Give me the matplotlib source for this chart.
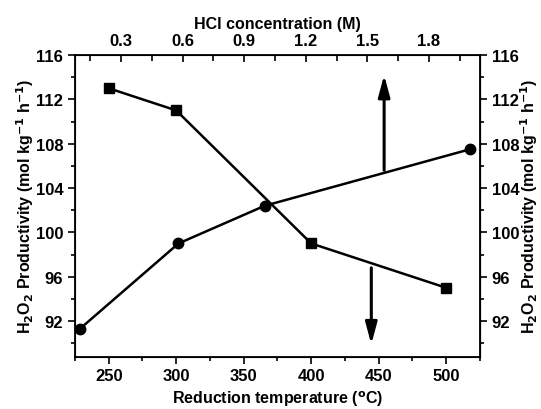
import matplotlib
matplotlib.use("Agg")
import matplotlib.pyplot as plt
from matplotlib.ticker import MultipleLocator

plt.rcParams['font.family'] = ['Liberation Sans', 'DejaVu Sans']
plt.rcParams['font.weight'] = 'bold'
plt.rcParams['mathtext.default'] = 'bf'

# data
temps = [250, 300, 400, 500]          # reduction temperature (C), squares
prod_temp = [113.0, 111.0, 99.0, 95.0]
hcl = [0.10, 0.58, 1.00, 2.00]        # HCl concentration (M), circles
prod_hcl = [91.3, 99.0, 102.4, 107.5]

ylabel = r'H$_2$O$_2$ Productivity (mol kg$^{-1}$ h$^{-1}$)'

fig = plt.figure(figsize=(5.41, 4.10), dpi=100)
ax = fig.add_axes([0.1386, 0.128, 0.7486, 0.7354])

ax.plot(temps, prod_temp, color='black', lw=1.8, marker='s', ms=7, zorder=3)
ax.set_xlim(225, 525)
ax.set_ylim(88.8, 116)
ax.xaxis.set_major_locator(MultipleLocator(50))
ax.xaxis.set_minor_locator(MultipleLocator(25))
ax.yaxis.set_major_locator(MultipleLocator(4))
ax.yaxis.set_minor_locator(MultipleLocator(2))
ax.tick_params(axis='both', which='major', direction='out', length=5, width=1.2, labelsize=12)
ax.tick_params(axis='both', which='minor', direction='out', length=3, width=1.2)
ax.set_xlabel('Reduction temperature ($^{o}$C)', fontsize=11.5, fontweight='bold', labelpad=4)
ax.set_ylabel(ylabel, fontsize=11.5, fontweight='bold', labelpad=0)
for s in ax.spines.values():
    s.set_linewidth(1.3)

# top axis: HCl concentration
axt = ax.twiny()
axt.plot(hcl, prod_hcl, color='black', lw=1.8, marker='o', ms=7.5, zorder=3, clip_on=False)
axt.set_xlim(0.076, 2.048)
axt.set_xticks([0.3, 0.6, 0.9, 1.2, 1.5, 1.8])
axt.set_xticklabels(['0.3', '0.6', '0.9', '1.2', '1.5', '1.8'])
axt.xaxis.set_minor_locator(MultipleLocator(0.15))
axt.tick_params(axis='x', which='major', direction='in', length=5, width=1.2, labelsize=12, pad=5)
axt.tick_params(axis='x', which='minor', direction='in', length=4, width=1.2)
axt.set_xlabel('HCl concentration (M)', fontsize=11.5, fontweight='bold', labelpad=4)

# right axis mirrors left
axr = ax.secondary_yaxis('right')
axr.yaxis.set_major_locator(MultipleLocator(4))
axr.yaxis.set_minor_locator(MultipleLocator(2))
axr.tick_params(axis='y', which='major', direction='out', length=5, width=1.2, labelsize=12)
axr.tick_params(axis='y', which='minor', direction='out', length=3, width=1.2)
axr.set_ylabel(ylabel, fontsize=11.5, fontweight='bold', labelpad=-1)

for t in ax.get_xticklabels() + ax.get_yticklabels() + axt.get_xticklabels() + axr.get_yticklabels():
    t.set_fontweight('bold')

# arrows pointing to each series' axis
arrow = dict(arrowstyle='-|>,head_length=1.3,head_width=0.35', color='black', lw=2.2, shrinkA=0, shrinkB=0)
ax.annotate('', xy=(454, 114.2), xytext=(454, 105.6), arrowprops=arrow)
ax.annotate('', xy=(444.5, 89.9), xytext=(444.5, 96.8), arrowprops=arrow)

fig.savefig('out.png', dpi=100)
